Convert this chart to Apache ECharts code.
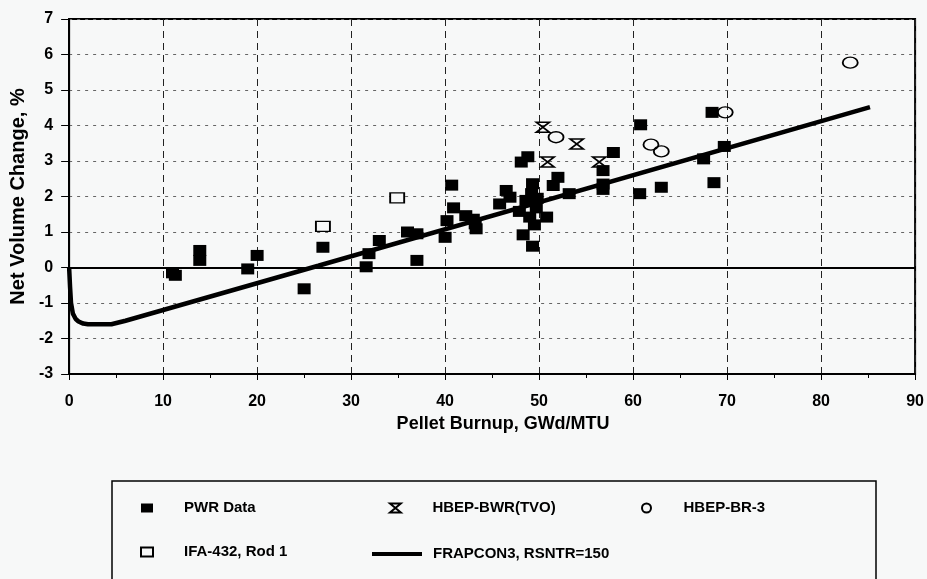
<!DOCTYPE html>
<html>
<head>
<meta charset="utf-8">
<script src="https://cdn.jsdelivr.net/npm/echarts@6/dist/echarts.min.js"></script>
<style>
html,body{margin:0;padding:0;background:#f7f8f8;}
#chart{width:927px;height:579px;}
</style>
</head>
<body>
<div id="chart"></div>
<script>
// 数据：[燃耗 GWd/MTU, 体积变化 %]
var pwrData = [
    [11.0,-0.15],[11.3,-0.22],[13.9,0.48],[13.9,0.2],[19.0,-0.04],[20.0,0.34],[25.0,-0.6],
    [27.0,0.57],[31.6,0.02],[31.9,0.39],[33.0,0.76],[36.0,1.0],[37.0,0.95],[37.0,0.2],
    [40.0,0.85],[40.2,1.32],[40.7,2.32],[40.9,1.68],[42.2,1.46],[43.0,1.36],[43.3,1.09],[43.2,1.23],
    [45.8,1.79],[46.5,2.17],[46.9,1.98],[48.1,2.97],[48.8,3.12],[48.3,0.92],[47.9,1.58],
    [48.6,1.89],[49.2,2.08],[49.3,2.36],[49.3,0.6],[49.5,1.2],[49.0,1.42],[49.7,1.68],[49.8,1.95],
    [50.8,1.42],[51.5,2.31],[52.0,2.54],[53.2,2.08],[56.8,2.73],[56.8,2.2],[56.8,2.35],
    [57.9,3.24],[60.8,4.02],[60.7,2.08],[63.0,2.26],[67.5,3.06],[68.4,4.37],[68.6,2.39],[69.7,3.41]
];
var bwrData = [[50.4,3.95],[50.9,2.97],[54.0,3.48],[56.4,2.97]];
var br3Data = [[51.8,3.67],[61.9,3.46],[63.0,3.27],[69.8,4.37],[83.1,5.77]];
var ifaData = [[27.0,1.16],[34.9,1.96]];
var frapX = [0, 0.1, 0.2, 0.4, 0.7, 1.0, 1.5, 2.0, 3.0, 4.5, 6.0, 26.5, 85.2];
var frapY = [0, -0.55, -1.0, -1.3, -1.45, -1.52, -1.58, -1.6, -1.6, -1.6, -1.5, 0.05, 4.52];
var xTicks = [0, 90, 10];
var yTicks = [-3, 7, 1];

var frapData = [];
for (var i = 0; i < frapX.length; i++) {
    frapData.push([frapX[i], frapY[i]]);
}

var font = 'Liberation Sans, Arial, sans-serif';
var hourglass = 'path://M0,0L12,0L0,10L12,10Z';

var myChart = echarts.init(document.getElementById('chart'));

function legendAt(name, left, top, extra) {
    var lg = {
        data: [name],
        left: left,
        top: top,
        padding: 0,
        itemWidth: 12,
        itemHeight: 9,
        selectedMode: false,
        textStyle: {
            fontFamily: font, fontSize: 15, fontWeight: 'bold', color: '#000',
            lineHeight: 18, padding: [0, 0, 0, 26]
        }
    };
    for (var k in extra) { lg[k] = extra[k]; }
    return lg;
}

var option = {
    backgroundColor: '#f7f8f8',
    animation: false,
    grid: {
        left: 67, right: 10, top: 19, bottom: 205,
        show: true, borderColor: '#000', borderWidth: 2
    },
    xAxis: {
        type: 'value',
        min: xTicks[0], max: xTicks[1], interval: xTicks[2],
        name: 'Pellet Burnup, GWd/MTU',
        nameLocation: 'middle',
        nameGap: 39,
        nameTextStyle: { fontFamily: font, fontSize: 18, fontWeight: 'bold', color: '#000', padding: [0, 0, 0, 22] },
        axisLine: { onZero: false, lineStyle: { color: '#000', width: 2 } },
        axisTick: { length: 6, lineStyle: { color: '#000' } },
        minorTick: { show: true, splitNumber: 2, length: 4, lineStyle: { color: '#000' } },
        axisLabel: { fontFamily: font, fontSize: 16, fontWeight: 'bold', color: '#000', margin: 20 },
        splitLine: { show: true, lineStyle: { color: '#222', type: [7, 5], width: 1 } }
    },
    yAxis: {
        type: 'value',
        min: yTicks[0], max: yTicks[1], interval: yTicks[2],
        name: 'Net Volume Change, %',
        nameLocation: 'middle',
        nameGap: 39,
        nameRotate: 90,
        nameTextStyle: { fontFamily: font, fontSize: 20, fontWeight: 'bold', color: '#000' },
        axisLine: { lineStyle: { color: '#000', width: 2 } },
        axisTick: { length: 8, lineStyle: { color: '#000' } },
        axisLabel: { fontFamily: font, fontSize: 16, fontWeight: 'bold', color: '#000', margin: 16 },
        splitLine: { show: true, lineStyle: { color: '#666', type: [3, 5], width: 1 } }
    },
    legend: [
        legendAt('PWR Data', 141, 499),
        legendAt('HBEP-BWR(TVO)', 389, 499),
        legendAt('HBEP-BR-3', 641, 499),
        legendAt('IFA-432, Rod 1', 140, 543),
        legendAt('FRAPCON3, RSNTR=150', 372, 545, {
            icon: 'rect',
            itemWidth: 50, itemHeight: 4,
            itemStyle: { color: '#000' },
            textStyle: { fontFamily: font, fontSize: 15, fontWeight: 'bold', color: '#000', lineHeight: 18, padding: [0, 0, 0, 6] }
        })
    ],
    graphic: [{
        type: 'rect',
        shape: { x: 112, y: 481, width: 764, height: 110 },
        style: { fill: 'none', stroke: '#000', lineWidth: 1.5 },
        silent: true
    }],
    series: [
        {
            name: 'FRAPCON3, RSNTR=150',
            type: 'line',
            data: frapData,
            symbol: 'none',
            lineStyle: { color: '#000', width: 4.5 },
            itemStyle: { color: '#000' },
            z: 2,
            markLine: {
                silent: true,
                symbol: 'none',
                label: { show: false },
                lineStyle: { color: '#000', type: 'solid', width: 2 },
                data: [{ yAxis: 0 }]
            }
        },
        {
            name: 'PWR Data',
            type: 'scatter',
            data: pwrData,
            symbol: 'rect',
            symbolSize: [13, 11],
            itemStyle: { color: '#000', opacity: 1 },
            z: 3
        },
        {
            name: 'HBEP-BWR(TVO)',
            type: 'scatter',
            data: bwrData,
            symbol: hourglass,
            symbolSize: [13, 10],
            itemStyle: { color: 'rgba(0,0,0,0)', borderColor: '#000', borderWidth: 1.8, opacity: 1 },
            z: 4
        },
        {
            name: 'HBEP-BR-3',
            type: 'scatter',
            data: br3Data,
            symbol: 'circle',
            symbolSize: [15, 11],
            itemStyle: { color: 'rgba(0,0,0,0)', borderColor: '#000', borderWidth: 1.6, opacity: 1 },
            z: 4
        },
        {
            name: 'IFA-432, Rod 1',
            type: 'scatter',
            data: ifaData,
            symbol: 'rect',
            symbolSize: [14, 10],
            itemStyle: { color: '#f7f8f8', borderColor: '#000', borderWidth: 1.6, opacity: 1 },
            z: 4
        }
    ]
};
myChart.setOption(option);
</script>
</body>
</html>
